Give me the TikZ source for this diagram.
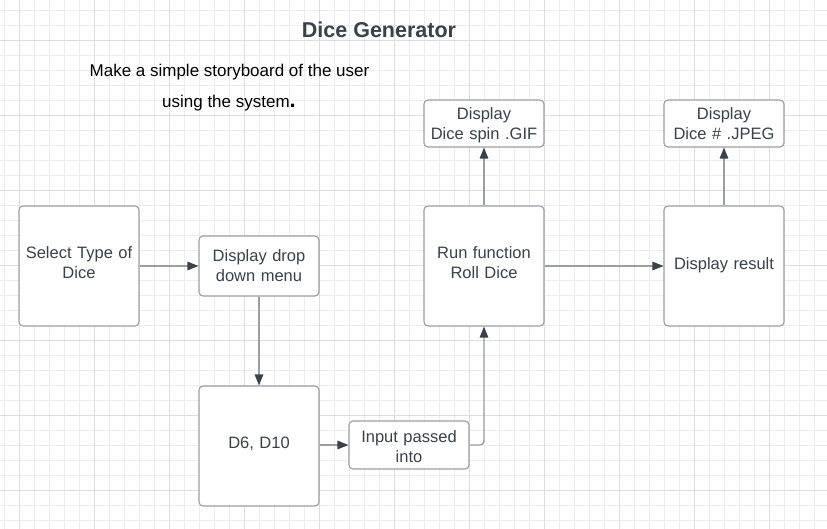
\documentclass[tikz,border=0pt]{standalone}
\usepackage{fontspec}
\setmainfont{Liberation Sans}
\usetikzlibrary{arrows.meta}
\definecolor{txt}{HTML}{3A414A}
\definecolor{bord}{HTML}{9A9EA5}
\definecolor{conn}{HTML}{9A9EA5}
\definecolor{gridminor}{HTML}{EDEDED}
\definecolor{gridmajor}{HTML}{DDDDDD}
\tikzset{
  box/.style={draw=bord, line width=1.1bp, fill=white, rounded corners=4bp, align=center,
    text=txt, font=\fontsize{16.5bp}{20bp}\selectfont, inner sep=0pt, text width=118bp},
  raise/.style={execute at end node={\par\vspace{#1}}},
  conn/.style={draw=conn, line width=1.4bp, -{Triangle[length=11bp,width=8.5bp,color=txt,fill=txt]}},
}
\begin{document}
\begin{tikzpicture}[x=1bp,y=-1bp]
\useasboundingbox (0,0) rectangle (827,529);
\fill[white] (0,0) rectangle (827,529);
% grid
\foreach \i in {0,...,55} {\draw[gridminor, line width=0.8bp] ({4.5+15*\i},0) -- ({4.5+15*\i},529);}
\foreach \i in {0,...,35} {\draw[gridminor, line width=0.8bp] (0,{10.5+15*\i}) -- (827,{10.5+15*\i});}
\foreach \i in {0,...,10} {\draw[gridmajor, line width=1bp] ({19.5+75*\i},0) -- ({19.5+75*\i},529);}
\foreach \i in {0,...,6} {\draw[gridmajor, line width=1bp] (0,{40.5+75*\i}) -- (827,{40.5+75*\i});}
% texts
\node[text=txt, font=\fontsize{21.5bp}{24bp}\selectfont\bfseries] (title) at (379,30) {Dice Generator};
\node[font=\fontsize{17bp}{20bp}\selectfont] (desc1) at (229.5,72) {Make a simple storyboard of the user};
\node[font=\fontsize{17bp}{20bp}\selectfont] (desc2) at (229,103) {using the system{\fontsize{22bp}{20bp}\selectfont\bfseries .}};
% boxes
\node[box, raise=6bp, minimum width=120bp, minimum height=120bp] (select) at (79,266) {Select Type of\\Dice};
\node[box, minimum width=120bp, minimum height=60bp] (drop) at (259,266) {Display drop\\down menu};
\node[box, raise=4bp, minimum width=120bp, minimum height=120bp] (d6) at (259,446) {D6, D10};
\node[box, raise=-3bp, minimum width=120bp, minimum height=48bp] (input) at (409,445) {Input passed\\into};
\node[box, raise=6bp, minimum width=120bp, minimum height=120bp] (run) at (484,266) {Run function\\Roll Dice};
\node[box, raise=-4bp, minimum width=120bp, minimum height=47bp] (gif) at (484,123.5) {Display\\Dice spin .GIF\vphantom{y}};
\node[box, raise=2bp, minimum width=120bp, minimum height=120bp] (result) at (724,266) {Display result};
\node[box, raise=-4bp, minimum width=120bp, minimum height=47bp] (jpeg) at (724,123.5) {Display\\Dice \# .JPEG\vphantom{y}};
% connectors
\draw[conn] (select.east) -- (drop.west);
\draw[conn] (drop.south) -- (d6.north);
\draw[conn] (d6.east |- input.west) -- (input.west);
\draw[conn, rounded corners=4bp] (input.east) -| (run.south);
\draw[conn] (run.north) -- (gif.south);
\draw[conn] (run.east) -- (result.west);
\draw[conn] (result.north) -- (jpeg.south);
\end{tikzpicture}
\end{document}
